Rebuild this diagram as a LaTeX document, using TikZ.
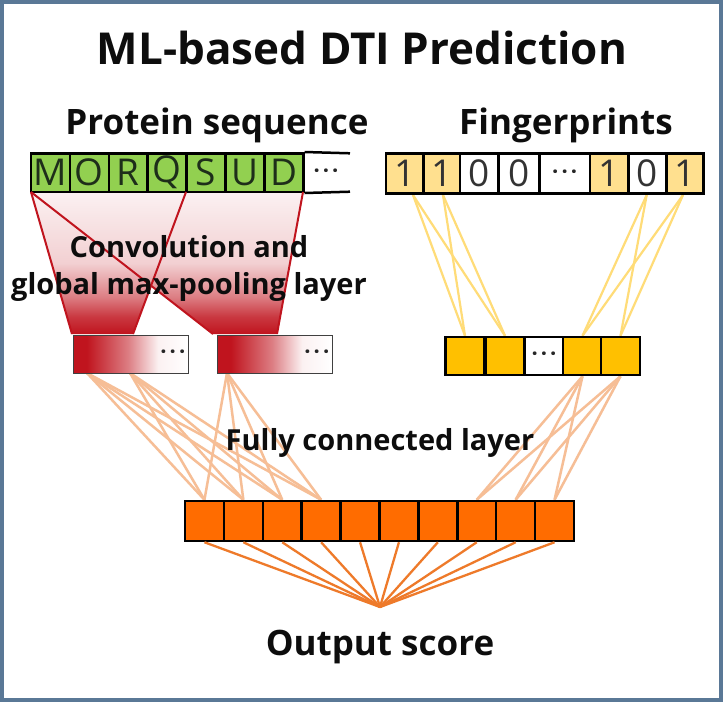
\documentclass[tikz,border=0pt]{standalone}
\usepackage{fontspec}
\setmainfont{Open Sans}
\definecolor{framecol}{HTML}{5A7896}
\definecolor{seqgreen}{HTML}{92D050}
\definecolor{fplight}{HTML}{FFE08F}
\definecolor{fpline}{HTML}{FFDC78}
\definecolor{gold}{HTML}{FFC000}
\definecolor{outorange}{HTML}{FF6C00}
\definecolor{fcline}{HTML}{F6BE96}
\definecolor{outline}{HTML}{EE7A2A}
\definecolor{convred}{HTML}{C0141E}
\definecolor{letterc}{HTML}{1E2E1A}
\pgfdeclarelayer{bg}
\pgfsetlayers{bg,main}
\pgfdeclarehorizontalshading{poolshade}{100bp}{color(0bp)=(convred); color(25bp)=(convred);
  color(31bp)=(convred); color(49bp)=(convred!55); color(62bp)=(convred!6); color(75bp)=(white); color(100bp)=(white)}
\pgfdeclareverticalshading{convshade}{100bp}{color(0bp)=(convred); color(25bp)=(convred);
  color(31bp)=(convred!85); color(38bp)=(convred!55); color(50bp)=(convred!20); color(75bp)=(convred!6); color(100bp)=(convred!6)}
\newcommand{\mydots}{·\kern3pt·\kern3pt·}
\tikzset{
  x=1pt, y=-1pt,
  seqcell/.style={draw=black, line width=2.5pt, fill=seqgreen, minimum width=38.9pt,
    minimum height=38.5pt, inner sep=0pt, text=letterc, font=\fontsize{37}{37}\selectfont},
  fpcell/.style={draw=black, line width=2.5pt, minimum height=40pt, inner sep=0pt,
    text=black!80, font=\fontsize{37}{37}\selectfont},
  goldcell/.style={draw=black, line width=2.5pt, fill=gold, minimum width=39pt,
    minimum height=38pt, inner sep=0pt},
  outcell/.style={draw=black, line width=2.5pt, fill=outorange, minimum width=38.9pt,
    minimum height=40pt, inner sep=0pt},
  poolbox/.style={draw=black!75, line width=1pt, minimum width=115pt, minimum height=38pt,
    inner sep=0pt, shading=poolshade},
  dotlabel/.style={inner sep=3pt, font=\bfseries\fontsize{22}{22}\selectfont, text=black!85},
  heading/.style={font=\bfseries\fontsize{35}{35}\selectfont, text=black!95},
  layerlabel/.style={font=\bfseries\fontsize{29}{37}\selectfont, text=black!95, align=center},
  yline/.style={draw=fpline, line width=2.2pt},
  fcl/.style={draw=fcline, line width=2.5pt},
  outl/.style={draw=outline, line width=2.3pt},
  redge/.style={draw=convred, line width=2pt},
}
\begin{document}
\begin{tikzpicture}
\useasboundingbox (0,0) rectangle (723,702);
\begin{pgfonlayer}{bg}
\fill[white] (0,0) rectangle (723,702);
\end{pgfonlayer}

% title
\node[font=\bfseries\fontsize{44}{44}\selectfont, text=black!95] (title) at (362,48) {ML-based DTI Prediction};
\node[heading] (protlabel) at (217,125) {Protein sequence};
\node[heading] (fplabel) at (566,125) {Fingerprints};

% convolution trapezoids
\shade[shading=convshade] (31,192) -- (186,192) -- (133,334) -- (72,334) -- cycle;
\shade[shading=convshade] (31,192) -- (303,192) -- (277,334) -- (213,334) -- cycle;

% protein sequence
\foreach \l [count=\i] in {M,O,R,Q,S,U,D}
  \node[seqcell] (p\i) at ({31+38.9*(\i-0.5)},172.5) {\l};
\coordinate (ptopend) at (350,153.3);
\coordinate (pbotend) at (350,191.7);
\draw[black, line width=2.5pt] (p7.north east) -- (ptopend);
\draw[black, line width=2.5pt] (p7.south east) -- (pbotend);
\node[dotlabel] (pdots) at (326,174) {\mydots};

% red filter edges
\coordinate (t1a) at (31,192); \coordinate (t1b) at (186,192);
\coordinate (t2b) at (303,192);
\coordinate (u1a) at (72,334); \coordinate (u1b) at (133,334);
\coordinate (u2a) at (213,334); \coordinate (u2b) at (277,334);
\draw[redge] (t1a) -- (u1a);
\draw[redge] (t1b) -- (u1b);
\draw[redge] (t1a) -- (u2a);
\draw[redge] (t2b) -- (u2b);

\node[layerlabel] (convlabel) at (189,268) {Convolution and\\global max-pooling layer};

% fingerprints
\foreach \a/\b/\t/\f [count=\i] in {386/423.3/1/fplight, 423.3/460/1/fplight, 460/498.3/0/white,
   498.3/539.3/0/white, 539.3/590/{}/white, 590/628.3/1/fplight, 628.3/666.7/0/white, 666.7/703.3/1/fplight}{
  \pgfmathsetmacro\w{\b-\a}
  \pgfmathsetmacro\c{(\a+\b)/2}
  \node[fpcell, fill=\f, minimum width=\w pt] (f\i) at (\c,173.3) {\t};
}
\node[dotlabel] (fdots) at ([yshift=-1pt]f5.center) {\mydots};

% gold layer
\foreach \c/\f [count=\i] in {465/gold, 505/gold, 544/white, 582.5/gold, 620.5/gold}
  \node[goldcell, fill=\f] (g\i) at (\c,356) {};
\node[dotlabel] (gdots) at ([yshift=-1pt]g3.center) {\mydots};

% pooling boxes
\node[poolbox] (b1) at (130.5,354) {};
\node[poolbox] (b2) at (274.5,354) {};
\node[dotlabel, anchor=east] (b1dots) at ([yshift=-1pt]b1.east) {\mydots};
\node[dotlabel, anchor=east] (b2dots) at ([yshift=-1pt]b2.east) {\mydots};

% output layer
\foreach \i in {1,...,10}
  \node[outcell] (o\i) at ({185+38.9*(\i-0.5)},521) {};

% connectors (behind the boxes)
\coordinate (fs1) at (413,195); \coordinate (fs2) at (443,195);
\coordinate (fs3) at (646.7,195); \coordinate (fs4) at (683,195);
\coordinate (bs1) at (87,373); \coordinate (bs2) at (130,373); \coordinate (bs3) at (227,373);
\begin{pgfonlayer}{bg}
\foreach \s in {fs1,fs2}
  \foreach \t in {g1,g2}
    \draw[yline] (\s) -- (\t.north);
\foreach \s in {fs3,fs4}
  \foreach \t in {g4,g5}
    \draw[yline] (\s) -- (\t.north);
\foreach \s in {bs1,bs2,bs3}
  \foreach \t in {o1,o2,o3,o4}
    \draw[fcl] (\s) -- (\t.north);
\foreach \s in {g4,g5}
  \foreach \t in {o8,o9,o10}
    \draw[fcl] (\s.south) -- (\t.north);
\end{pgfonlayer}

\node[layerlabel] (fclabel) at (380,443) {Fully connected layer};

% output
\coordinate (out) at (380,607);
\foreach \i in {1,...,10}
  \draw[outl] (o\i.south) -- (out);
\node[heading] (outlabel) at (380,647) {Output score};

% frame
\draw[framecol, line width=4pt] (2,2) rectangle (721,700);
\end{tikzpicture}
\end{document}
